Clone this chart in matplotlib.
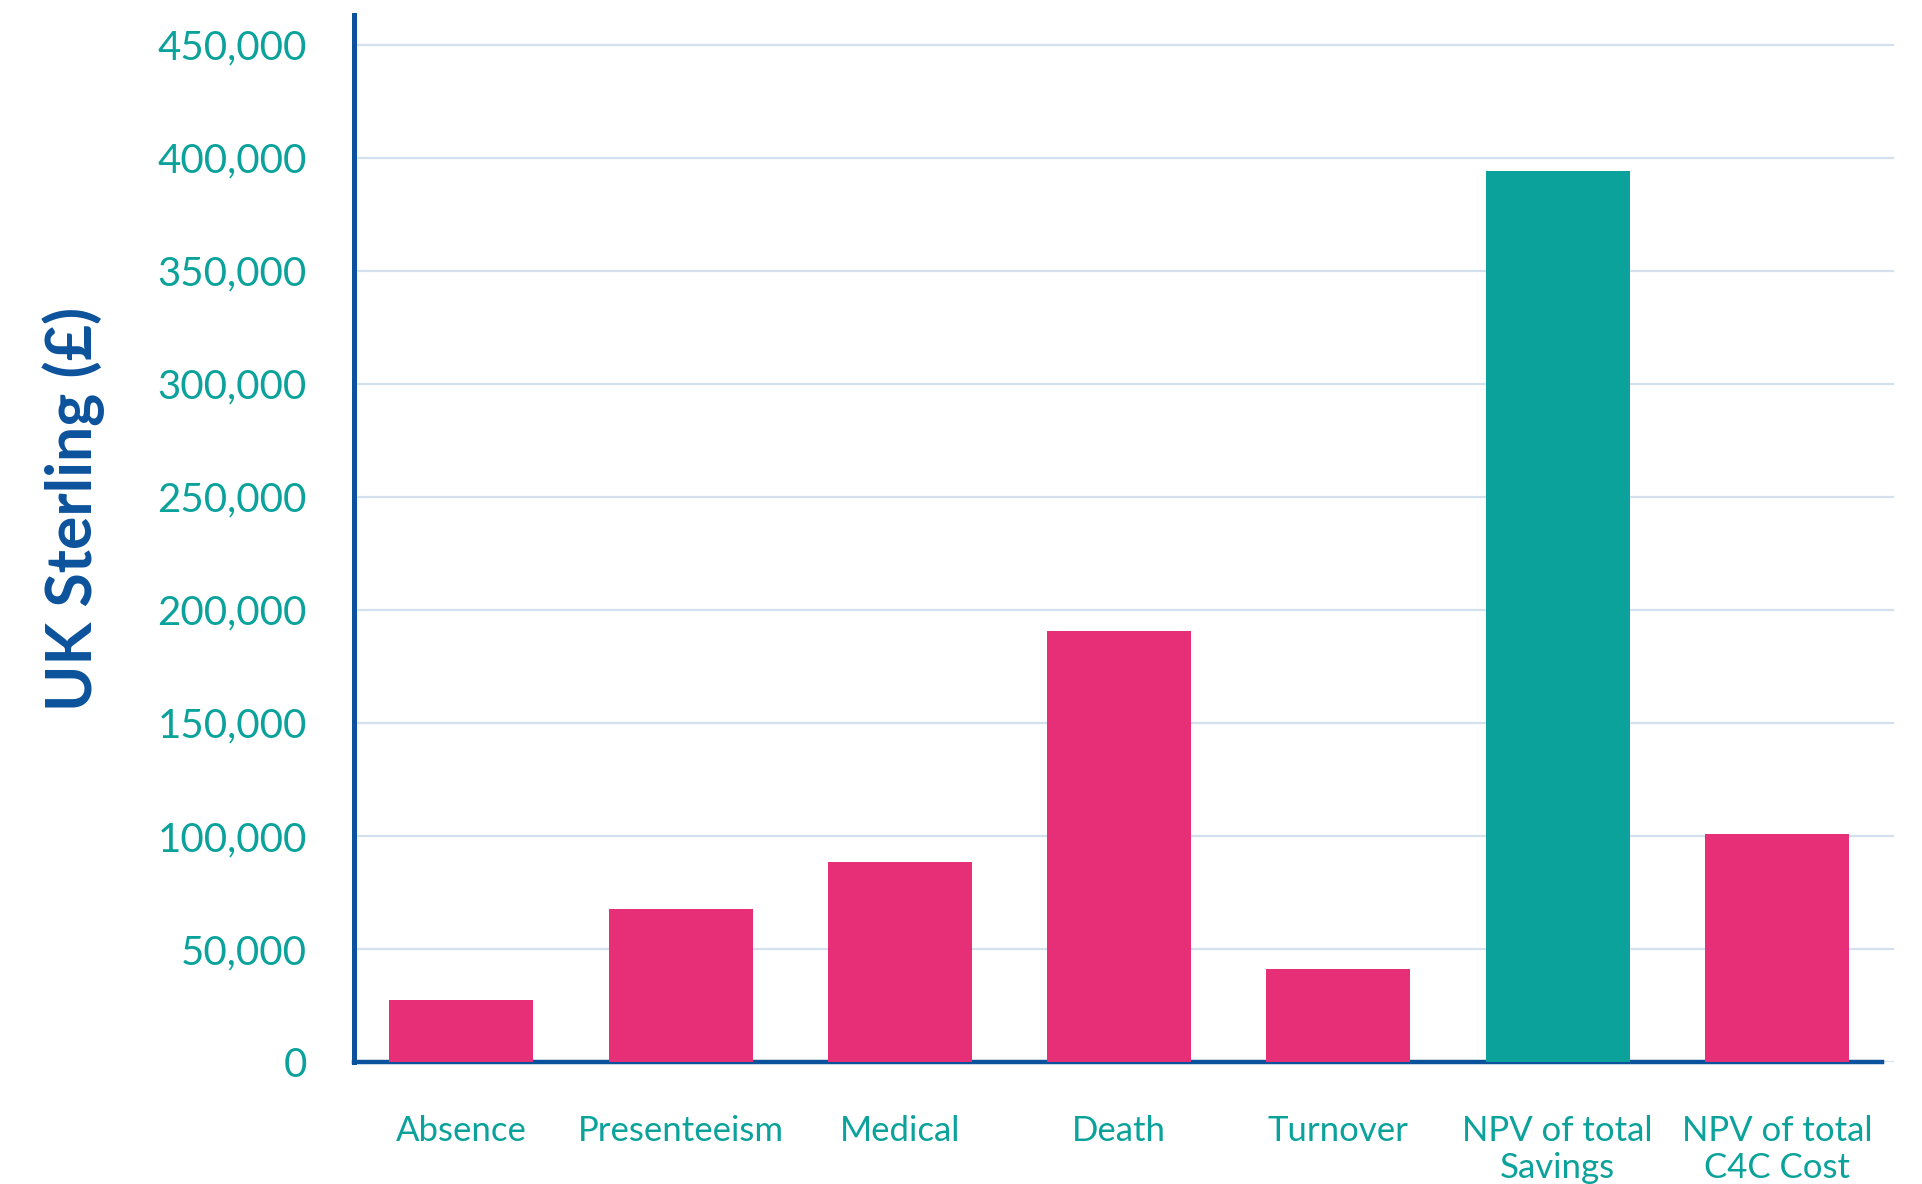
import matplotlib.pyplot as plt
import numpy as np
from matplotlib.ticker import FuncFormatter

# cost components (UK Sterling)
categories = ["Absence", "Presenteeism", "Medical", "Death", "Turnover",
              "NPV of total\nSavings", "NPV of total\nC4C Cost"]
values = [27500, 67500, 88500, 190500, 41000, 394000, 101000]
bar_colours = ["#e62f76", "#e62f76", "#e62f76", "#e62f76", "#e62f76",
               "#0ba29b", "#e62f76"]
yticks = [0, 50000, 100000, 150000, 200000, 250000, 300000, 350000, 400000, 450000]

teal = "#0ba29b"
navy = "#0b529c"

plt.rcParams['font.family'] = ['Lato', 'DejaVu Sans']

fig = plt.figure(figsize=(19.22, 11.84), dpi=100)
ax = fig.add_axes([0.1842, 0.103, 0.9854 - 0.1842, 0.987 - 0.103])

x = np.arange(len(categories))
ax.bar(x, values, width=0.657, color=bar_colours, zorder=3)

ax.set_xlim(-0.49, 6.534)
ax.set_ylim(0, 463000)

ax.set_yticks(yticks)
ax.yaxis.set_major_formatter(FuncFormatter(lambda v, p: f"{int(v):,}"))
ax.set_xticks(x)
ax.set_xticklabels(categories, linespacing=1.2)

ax.tick_params(axis='y', length=0, pad=34, labelsize=29, labelcolor=teal)
ax.tick_params(axis='x', length=0, pad=38, labelsize=25, labelcolor=teal)

ax.grid(axis='y', color="#d3e0ee", linewidth=1.6, zorder=0)
ax.set_axisbelow(True)

for side in ['top', 'right']:
    ax.spines[side].set_visible(False)
ax.spines['left'].set_color(navy)
ax.spines['left'].set_linewidth(3.6)
ax.spines['bottom'].set_color(navy)
ax.spines['bottom'].set_linewidth(3.2)
ax.spines['bottom'].set_bounds(-0.49, 6.479)

fig.text(0.0385, 0.570, "UK Sterling (£)", rotation=90, ha='center', va='center',
         fontsize=45, fontweight='bold', color=navy)

fig.savefig("out.png", dpi=100)
